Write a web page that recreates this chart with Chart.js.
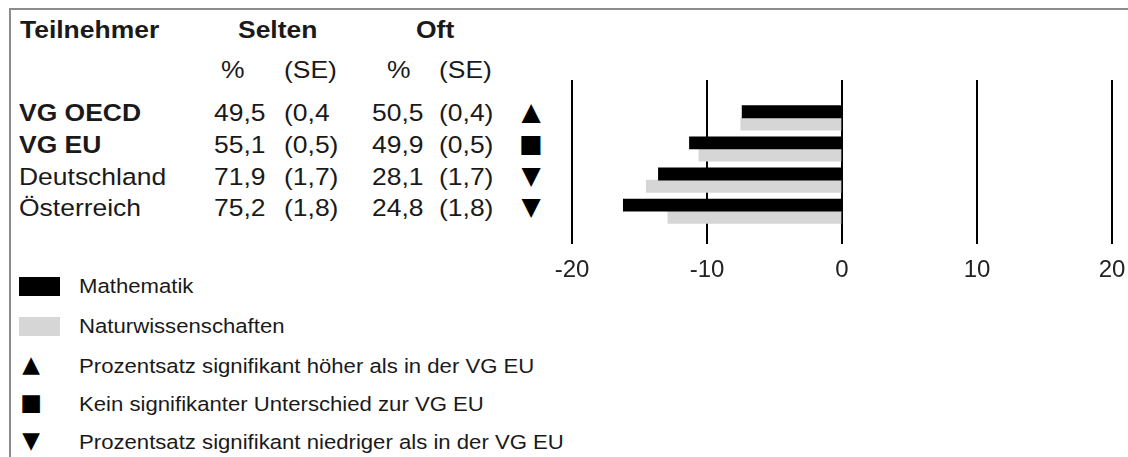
<!DOCTYPE html>
<html lang="de">
<head>
<meta charset="utf-8">
<title>Selten / Oft</title>
<script src="https://cdn.jsdelivr.net/npm/chart.js@4.4.1/dist/chart.umd.min.js"></script>
<style>
  html, body { margin: 0; padding: 0; }
  body {
    width: 1128px; height: 457px; overflow: hidden; position: relative;
    background: #fff; font-family: "Liberation Sans", Arial, sans-serif; color: #1a1a1a;
  }
  .frame {
    position: absolute; left: 9px; top: 8px; width: 1130px; height: 460px;
    border-top: 2px solid #8c8c8c; border-left: 2px solid #8c8c8c;
  }
  .txt { position: absolute; white-space: nowrap; line-height: 1; transform-origin: 0 0; }
  .mark { position: absolute; width: 30px; text-align: center; line-height: 1; font-family: "DejaVu Sans", sans-serif; color: #000; }
  .swatch { position: absolute; width: 41px; height: 19px; }
  #diffChart { position: absolute; left: 540px; top: 60px; }
</style>
</head>
<body>
<div class="frame"></div>
<div id="table"></div>
<div id="legend"></div>
<canvas id="diffChart" width="600" height="240"></canvas>

<script>
  // Teilnehmer und Tabellenwerte
  const teilnehmer = ["VG OECD", "VG EU", "Deutschland", "Österreich"];
  const fett = [true, true, false, false];
  const seltenProzent = ["49,5", "55,1", "71,9", "75,2"];
  const seltenSE = ["(0,4", "(0,5)", "(1,7)", "(1,8)"];
  const oftProzent = ["50,5", "49,9", "28,1", "24,8"];
  const oftSE = ["(0,4)", "(0,5)", "(1,7)", "(1,8)"];
  const symbole = ["▲", "■", "▼", "▼"];

  // Differenzen (Balken)
  const mathematik = [-7.4, -11.3, -13.6, -16.2];
  const naturwissenschaften = [-7.5, -10.6, -14.5, -12.9];
  const xTicks = [-20, -10, 0, 10, 20];

  const legendeFaecher = ["Mathematik", "Naturwissenschaften"];
  const legendeSymbole = ["▲", "■", "▼"];
  const legendeSymbolText = [
    "Prozentsatz signifikant höher als in der VG EU",
    "Kein signifikanter Unterschied zur VG EU",
    "Prozentsatz signifikant niedriger als in der VG EU"
  ];

  const tableEl = document.getElementById("table");
  const legendEl = document.getElementById("legend");

  function setzeText(parent, text, x, yMitte, groesse, bold, stretch) {
    const el = document.createElement("div");
    el.className = "txt";
    el.textContent = text;
    el.style.left = x + "px";
    el.style.top = (yMitte - 0.49 * groesse) + "px";
    el.style.fontSize = groesse + "px";
    el.style.fontWeight = bold ? "bold" : "normal";
    el.style.transform = "scaleX(" + (stretch || 1) + ")";
    parent.appendChild(el);
    return el;
  }

  function setzeSymbol(parent, sym, xMitte, yMitte, groesse) {
    const el = document.createElement("div");
    el.className = "mark";
    el.textContent = sym;
    el.style.left = (xMitte - 15) + "px";
    el.style.top = (yMitte - 0.55 * groesse) + "px";
    el.style.fontSize = groesse + "px";
    parent.appendChild(el);
  }

  const fs = 24.5;
  const st = 1.08;
  setzeText(tableEl, "Teilnehmer", 20, 30, fs, true, st);
  setzeText(tableEl, "Selten", 238, 30, fs, true, st);
  setzeText(tableEl, "Oft", 416, 30, fs, true, st);
  setzeText(tableEl, "%", 221, 70, fs, false, st);
  setzeText(tableEl, "(SE)", 284, 70, fs, false, st);
  setzeText(tableEl, "%", 387, 70, fs, false, st);
  setzeText(tableEl, "(SE)", 439, 70, fs, false, st);

  const zeilenY = [113, 145, 177, 208];
  teilnehmer.forEach(function(name, i) {
    const y = zeilenY[i];
    setzeText(tableEl, name, 19, y, fs, fett[i], st);
    setzeText(tableEl, seltenProzent[i], 214, y, fs, false, st);
    setzeText(tableEl, seltenSE[i], 284, y, fs, false, st);
    setzeText(tableEl, oftProzent[i], 372, y, fs, false, st);
    setzeText(tableEl, oftSE[i], 439, y, fs, false, st);
    setzeSymbol(tableEl, symbole[i], 531, y, 25);
  });

  const farben = ["#000000", "#d6d6d6"];
  legendeFaecher.forEach(function(name, i) {
    const y = 286 + i * 40;
    const sw = document.createElement("div");
    sw.className = "swatch";
    sw.style.left = "19px";
    sw.style.top = (y - 9) + "px";
    sw.style.background = farben[i];
    legendEl.appendChild(sw);
    setzeText(legendEl, name, 79, y, 20.5, false, st);
  });
  legendeSymbole.forEach(function(sym, i) {
    const y = 366 + i * 38;
    setzeSymbol(legendEl, sym, 31, y, 23);
    setzeText(legendEl, legendeSymbolText[i], 79, y, 20.5, false, st);
  });

  const chartEl = document.getElementById("diffChart");
  new Chart(chartEl.getContext("2d"), {
    type: "bar",
    data: {
      datasets: [
        {
          label: legendeFaecher[0],
          data: mathematik.map(function(v, i) { return { x: v, y: i }; }),
          backgroundColor: farben[0],
          borderWidth: 0,
          barThickness: 12.2
        },
        {
          label: legendeFaecher[1],
          data: naturwissenschaften.map(function(v, i) { return { x: v, y: i }; }),
          backgroundColor: farben[1],
          borderWidth: 0,
          barThickness: 12.2
        }
      ]
    },
    options: {
      indexAxis: "y",
      responsive: false,
      animation: false,
      layout: { padding: { left: 32, right: 28, top: 20, bottom: 16 } },
      scales: {
        x: {
          type: "linear",
          min: xTicks[0],
          max: xTicks[xTicks.length - 1],
          afterBuildTicks: function(scale) {
            scale.ticks = xTicks.map(function(v) { return { value: v }; });
          },
          afterFit: function(scale) { scale.height = 40; },
          ticks: {
            color: "#222",
            padding: 12,
            font: { family: "Liberation Sans", size: 24 }
          },
          grid: { color: "#000", lineWidth: 2, drawTicks: false },
          border: { display: false }
        },
        y: {
          type: "linear",
          reverse: true,
          offset: false,
          min: -1.215,
          max: 4.05,
          display: false
        }
      },
      plugins: {
        legend: { display: false },
        tooltip: { enabled: false }
      }
    }
  });
</script>
</body>
</html>
